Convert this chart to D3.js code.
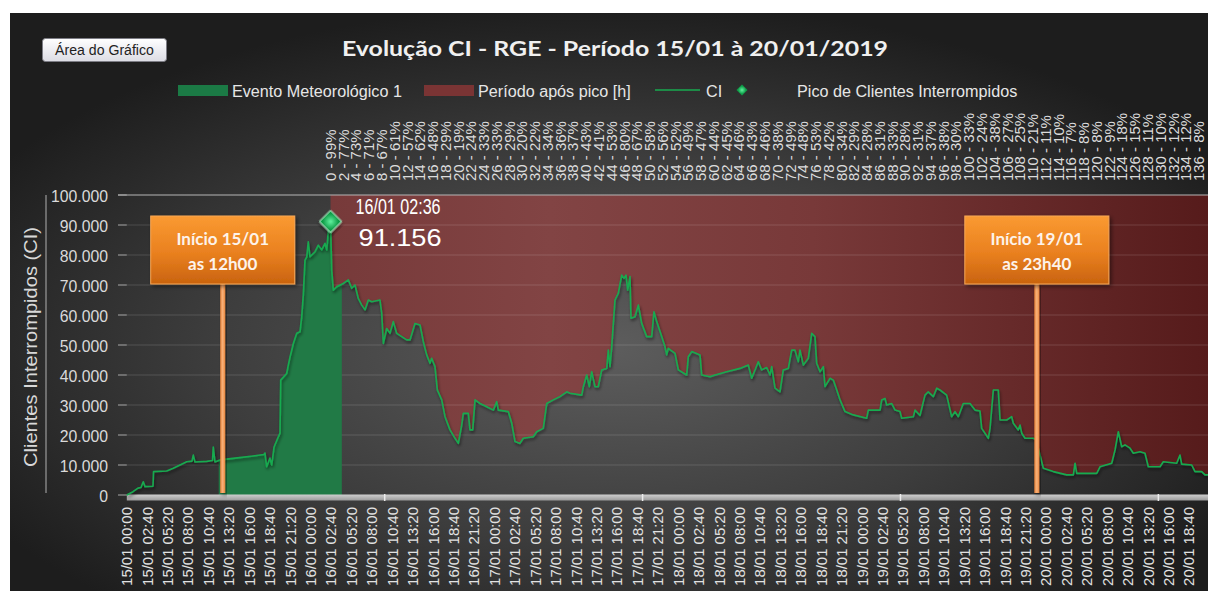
<!DOCTYPE html>
<html>
<head>
<meta charset="utf-8">
<script src="https://cdn.jsdelivr.net/npm/d3@7"></script>
<style>
  body{margin:0;background:#fff;}
  svg{display:block;}
</style>
</head>
<body>
<script>
//dados lidos do grafico original
//serie CI: [horas desde 15/01 00:00, clientes interrompidos]
var serieCI = [
  [0,0],[0.81,1100],[1.46,2300],[1.85,2500],[2.15,4400],[2.38,2800],[3.42,2900],[3.49,7800],
  [5.21,8000],[6.07,8900],[6.95,10000],[7.82,11100],[8.51,11300],[8.68,13300],[8.9,11000],
  [10.43,11200],[11.19,11500],[11.29,16000],[11.51,11000],[12.17,11700],[13.86,12200],
  [16.48,13000],[17.91,13500],[18.04,14000],[18.26,9400],[18.69,12300],[18.92,10000],
  [19.22,16000],[19.78,19400],[20.0,20600],[20.09,38300],[20.87,40500],[21.08,43300],
  [21.31,46000],[21.74,50500],[22.18,53900],[22.61,54400],[22.83,59400],[23.04,66700],
  [23.26,78300],[23.49,79400],[23.69,84400],[23.92,79400],[24.57,81100],[25.0,83300],
  [25.44,81700],[25.87,83900],[26.1,81700],[26.31,88300],[26.6,91156],[26.75,75000],
  [26.96,68300],[27.4,69400],[28.26,70500],[28.92,71700],[29.36,68900],[29.79,70000],
  [30.22,65500],[30.67,63300],[31.1,61700],[31.53,65000],[31.97,64400],[33.05,65000],
  [33.28,60500],[33.49,50500],[33.93,55500],[34.36,53900],[34.79,57800],[35.23,53900],
  [35.89,52800],[36.54,51700],[36.97,51700],[37.62,57200],[38.28,56700],[38.71,51100],
  [39.15,46700],[39.58,43900],[39.8,45600],[40.23,42800],[40.54,35000],[41.11,31700],
  [41.54,26100],[42.19,21700],[42.85,18900],[43.28,17200],[43.72,23300],[43.93,27200],
  [44.58,27200],[44.8,21700],[45.16,21700],[45.46,31700],[46.11,30500],[46.98,29400],
  [47.85,28300],[48.29,31100],[48.5,28300],[49.8,27800],[50.25,23900],[50.68,17800],
  [51.33,17200],[51.76,18900],[53.07,19400],[53.51,21100],[54.37,22200],[54.82,30500],
  [55.68,31700],[56.55,32800],[57.43,34400],[57.86,33900],[59.39,33300],[59.6,36100],
  [60.04,40000],[60.38,36100],[60.69,41100],[61.12,36100],[61.55,36100],[62.0,41700],
  [62.65,42200],[62.86,48300],[63.08,42800],[63.3,49400],[63.73,65000],[64.16,67200],
  [64.61,73300],[64.91,72200],[65.17,73300],[65.39,68300],[65.69,72800],[65.82,58900],
  [66.34,59400],[66.78,63300],[67.22,57200],[67.87,52800],[68.52,52800],[68.82,61100],
  [69.18,57800],[69.83,52800],[70.26,49400],[70.48,46700],[70.69,48900],[71.57,47200],
  [72.0,41700],[73.09,40000],[73.3,46100],[73.75,47800],[74.83,46700],[75.05,40000],
  [76.14,39400],[76.79,40000],[78.32,41100],[80.05,42200],[81.14,43300],[81.58,38900],
  [82.44,44400],[82.88,41700],[83.54,42500],[83.97,40000],[84.19,42800],[84.62,35600],
  [85.27,34400],[85.7,41700],[86.36,42200],[86.8,48300],[87.23,48300],[87.66,44400],
  [87.88,48300],[88.32,43300],[88.97,45600],[89.41,53900],[89.84,52800],[90.06,43900],
  [90.5,41100],[90.93,42800],[91.15,36100],[91.8,38900],[92.23,38300],[92.68,35000],
  [93.11,31700],[93.76,27800],[94.84,26700],[96.59,25600],[96.8,28300],[98.33,28300],
  [98.55,31700],[98.98,32200],[99.2,30000],[99.86,30500],[100.29,28300],[100.94,27800],
  [101.16,25600],[102.68,26100],[102.9,28300],[103.55,26500],[104.2,33300],[104.63,34400],
  [105.29,32800],[105.73,35600],[106.16,35000],[107.03,33300],[107.68,26100],[108.12,27800],
  [108.55,26100],[109.2,30500],[110.08,30500],[110.73,28300],[111.38,28000],[111.6,22200],
  [112.47,18900],[112.69,22200],[113.12,35000],[113.77,35000],[114.0,25000],[114.87,25000],
  [115.52,26100],[115.73,23900],[116.38,21700],[116.61,23300],[116.83,20600],[117.26,18900],
  [118.34,18900],[118.7,18500],[119.22,13300],[119.65,8900],[120.95,7800],[122.7,6700],
  [123.57,6700],[123.79,10600],[124.01,7200],[126.62,7200],[127.05,9400],[128.58,10600],
  [129.01,15000],[129.44,21100],[129.88,16100],[130.31,16700],[130.97,15600],[131.4,13900],
  [132.27,14400],[132.92,13900],[133.35,9400],[134.88,9400],[135.31,11100],[137.06,10600],
  [137.49,13300],[137.71,10300],[139.02,10000],[139.45,7800],[140.32,7800],[140.75,6700],
  [141.4,6700]
];

//pico
var picoHora = 26.6;
var picoValor = 91156;
var picoTexto = "16/01 02:36";

//evento meteorologico (horas)
var eventoInicio = 12;
var eventoFim = 28.07;

//rotulos do eixo x (a cada 2h40)
var rotulosX = [
  "15/01 00:00","15/01 02:40","15/01 05:20","15/01 08:00","15/01 10:40","15/01 13:20","15/01 16:00","15/01 18:40","15/01 21:20",
  "16/01 00:00","16/01 02:40","16/01 05:20","16/01 08:00","16/01 10:40","16/01 13:20","16/01 16:00","16/01 18:40","16/01 21:20",
  "17/01 00:00","17/01 02:40","17/01 05:20","17/01 08:00","17/01 10:40","17/01 13:20","17/01 16:00","17/01 18:40","17/01 21:20",
  "18/01 00:00","18/01 02:40","18/01 05:20","18/01 08:00","18/01 10:40","18/01 13:20","18/01 16:00","18/01 18:40","18/01 21:20",
  "19/01 00:00","19/01 02:40","19/01 05:20","19/01 08:00","19/01 10:40","19/01 13:20","19/01 16:00","19/01 18:40","19/01 21:20",
  "20/01 00:00","20/01 02:40","20/01 05:20","20/01 08:00","20/01 10:40","20/01 13:20","20/01 16:00","20/01 18:40"
];
var passoRotuloX = 8 / 3; //2h40 em horas

//rotulos do eixo superior: horas apos pico - % do pico
var rotulosTopo = [
  "0 - 99%","2 - 77%","4 - 73%","6 - 71%","8 - 67%","10 - 61%","12 - 57%","14 - 62%","16 - 48%",
  "18 - 29%","20 - 19%","22 - 24%","24 - 33%","26 - 33%","28 - 29%","30 - 20%","32 - 22%","34 - 34%",
  "36 - 36%","38 - 37%","40 - 43%","42 - 41%","44 - 53%","46 - 80%","48 - 67%","50 - 58%","52 - 56%",
  "54 - 52%","56 - 49%","58 - 47%","60 - 44%","62 - 45%","64 - 46%","66 - 43%","68 - 46%","70 - 38%",
  "72 - 49%","74 - 48%","76 - 53%","78 - 42%","80 - 34%","82 - 29%","84 - 28%","86 - 31%","88 - 33%",
  "90 - 28%","92 - 31%","94 - 37%","96 - 38%","98 - 30%","100 - 33%","102 - 24%","104 - 38%","106 - 27%",
  "108 - 25%","110 - 21%","112 - 11%","114 - 10%","116 - 7%","118 - 8%","120 - 8%","122 - 9%","124 - 18%",
  "126 - 15%","128 - 11%","130 - 10%","132 - 12%","134 - 12%","136 - 8%"
];
var fimTopoHora = 139.93; //ultimo rotulo superior

var ticksY = [0,10000,20000,30000,40000,50000,60000,70000,80000,90000,100000];
var separadoresX = [33.667, 67.333, 101, 134.667];

//caixas de chamada (hora em que a linha foi desenhada)
var chamadas = [
  {hora: 12.52, linhas: ["Início 15/01", "as 12h00"]},
  {hora: 118.8, linhas: ["Início 19/01", "as 23h40"]}
];

var legendaNomes = ["Evento Meteorológico 1", "Período após pico [h]", "CI", "Pico de Clientes Interrompidos"];
var titulo = "Evolução CI - RGE - Período 15/01 à 20/01/2019";

//wrap everything in anon function
(function(){
  //dimensoes
  var width = 1208, height = 601;
  var pLeft = 126.8, pRight = 1208, pTop = 195, pBottom = 495;

  var svg = d3.select("body").append("svg")
    .attr("width", width)
    .attr("height", height);

  //checa se a fonte narrow existe
  var temNarrow = (function(){
    var t = svg.append("text").attr("x", -999).attr("y", -999)
      .style("font-size", "40px").text("Clientes 0123456789");
    t.style("font-family", "monospace");
    var a = t.node().getComputedTextLength();
    t.style("font-family", "'Liberation Sans Narrow', monospace");
    var b = t.node().getComputedTextLength();
    t.remove();
    return Math.abs(a - b) > 1;
  })();
  var fonteN = temNarrow ? "'Liberation Sans Narrow', sans-serif" : "'Liberation Sans', Arial, sans-serif";
  function tam(px){ return (temNarrow ? px : px * 0.83) + "px"; }

  var fmt = d3.formatLocale({decimal: ",", thousands: ".", grouping: [3], currency: ["R$", ""]}).format(",d");

  var x = d3.scaleLinear().domain([0, passoRotuloX * (rotulosX.length - 1)]).range([pLeft, 1189]);
  var y = d3.scaleLinear().domain([0, 100000]).range([pBottom, pTop]);

  var defs = svg.append("defs");

  //fundo
  var rg = defs.append("radialGradient").attr("id", "fundo")
    .attr("cx", "50%").attr("cy", "58%").attr("r", "60%");
  rg.append("stop").attr("offset", "0%").attr("stop-color", "#5d5d5d");
  rg.append("stop").attr("offset", "55%").attr("stop-color", "#3d3d3d");
  rg.append("stop").attr("offset", "100%").attr("stop-color", "#1d1d1d");

  var gv = defs.append("linearGradient").attr("id", "verm")
    .attr("gradientUnits", "userSpaceOnUse")
    .attr("x1", x(picoHora)).attr("x2", pRight).attr("y1", 0).attr("y2", 0);
  gv.append("stop").attr("offset", "0%").attr("stop-color", "#773a3a");
  gv.append("stop").attr("offset", "25%").attr("stop-color", "#824444");
  gv.append("stop").attr("offset", "55%").attr("stop-color", "#783939");
  gv.append("stop").attr("offset", "100%").attr("stop-color", "#561b1b");

  var gl = defs.append("linearGradient").attr("id", "laranja")
    .attr("x1", 0).attr("x2", 0).attr("y1", 0).attr("y2", 1);
  gl.append("stop").attr("offset", "0%").attr("stop-color", "#fa9a32");
  gl.append("stop").attr("offset", "55%").attr("stop-color", "#e9801f");
  gl.append("stop").attr("offset", "100%").attr("stop-color", "#c9630f");

  var glh = defs.append("linearGradient").attr("id", "haste")
    .attr("x1", 0).attr("x2", 1).attr("y1", 0).attr("y2", 0);
  glh.append("stop").attr("offset", "0%").attr("stop-color", "#e8843a");
  glh.append("stop").attr("offset", "50%").attr("stop-color", "#f9b27a");
  glh.append("stop").attr("offset", "100%").attr("stop-color", "#e8843a");

  var gb = defs.append("linearGradient").attr("id", "botao")
    .attr("x1", 0).attr("x2", 0).attr("y1", 0).attr("y2", 1);
  gb.append("stop").attr("offset", "0%").attr("stop-color", "#ffffff");
  gb.append("stop").attr("offset", "100%").attr("stop-color", "#dcdce4");

  var gx = defs.append("linearGradient").attr("id", "eixox")
    .attr("x1", 0).attr("x2", 0).attr("y1", 0).attr("y2", 1);
  gx.append("stop").attr("offset", "0%").attr("stop-color", "#cfcfcf");
  gx.append("stop").attr("offset", "100%").attr("stop-color", "#9b9b9b");

  var gd = defs.append("radialGradient").attr("id", "diam");
  gd.append("stop").attr("offset", "0%").attr("stop-color", "#62f29f");
  gd.append("stop").attr("offset", "100%").attr("stop-color", "#0d9c47");

  var sombra = defs.append("filter").attr("id", "sombra")
    .attr("x", "-5%").attr("y", "-5%").attr("width", "110%").attr("height", "120%");
  sombra.append("feDropShadow").attr("dx", 1).attr("dy", 2).attr("stdDeviation", 1.5)
    .attr("flood-color", "#000").attr("flood-opacity", 0.55);

  var sombraCx = defs.append("filter").attr("id", "sombraCx")
    .attr("x", "-10%").attr("y", "-10%").attr("width", "130%").attr("height", "130%");
  sombraCx.append("feDropShadow").attr("dx", 2).attr("dy", 2).attr("stdDeviation", 2)
    .attr("flood-color", "#000").attr("flood-opacity", 0.5);

  defs.append("clipPath").attr("id", "clipEvento").append("rect")
    .attr("x", x(eventoInicio)).attr("y", pTop)
    .attr("width", x(eventoFim) - x(eventoInicio)).attr("height", pBottom - pTop);
  defs.append("clipPath").attr("id", "clipPos").append("rect")
    .attr("x", x(picoHora)).attr("y", pTop)
    .attr("width", pRight - x(picoHora)).attr("height", pBottom - pTop);
  defs.append("clipPath").attr("id", "clipPlot").append("rect")
    .attr("x", pLeft - 2).attr("y", pTop - 20)
    .attr("width", pRight - pLeft + 2).attr("height", pBottom - pTop + 25);

  //fundo do grafico
  svg.append("rect")
    .attr("x", 10).attr("y", 13)
    .attr("width", width - 10).attr("height", 578)
    .attr("fill", "url(#fundo)");

  //area vermelha: periodo apos pico
  var areaAcima = d3.area()
    .x(function(d){ return x(d[0]); })
    .y0(y(100000))
    .y1(function(d){ return y(d[1]); });
  svg.append("path")
    .datum(serieCI)
    .attr("d", areaAcima)
    .attr("fill", "url(#verm)")
    .attr("clip-path", "url(#clipPos)");

  //grade
  svg.selectAll(".grade")
    .data(ticksY.slice(1, -1))
    .enter()
    .append("line")
    .attr("class", "grade")
    .attr("x1", pLeft).attr("x2", pRight)
    .attr("y1", function(d){ return y(d); })
    .attr("y2", function(d){ return y(d); })
    .attr("stroke", "rgba(255,255,255,0.14)")
    .attr("stroke-width", 1.2);

  //area verde: evento
  var areaAbaixo = d3.area()
    .x(function(d){ return x(d[0]); })
    .y0(y(0))
    .y1(function(d){ return y(d[1]); });
  svg.append("path")
    .datum(serieCI)
    .attr("d", areaAbaixo)
    .attr("fill", "#217a46")
    .attr("clip-path", "url(#clipEvento)");

  //linha do topo
  svg.append("line")
    .attr("x1", 118).attr("x2", pRight)
    .attr("y1", y(100000)).attr("y2", y(100000))
    .attr("stroke", "#b5b5b5").attr("stroke-width", 1.2);

  //eixo y
  svg.selectAll(".tickY")
    .data(ticksY)
    .enter()
    .append("line")
    .attr("class", "tickY")
    .attr("x1", 118).attr("x2", pLeft)
    .attr("y1", function(d){ return y(d); })
    .attr("y2", function(d){ return y(d); })
    .attr("stroke", "#a8a8a8");

  svg.selectAll(".rotY")
    .data(ticksY)
    .enter()
    .append("text")
    .attr("class", "rotY")
    .attr("x", 108)
    .attr("y", function(d){ return y(d) + 7; })
    .attr("text-anchor", "end")
    .style("font-family", fonteN)
    .style("font-size", tam(19))
    .attr("fill", "#dadada")
    .text(function(d){ return fmt(d); });

  svg.append("line")
    .attr("x1", 46).attr("x2", 46)
    .attr("y1", y(100000)).attr("y2", y(0) - 2)
    .attr("stroke", "#b0b0b0");

  svg.append("text")
    .attr("transform", "translate(37," + ((pTop + pBottom) / 2 + 2) + ") rotate(-90)")
    .attr("text-anchor", "middle")
    .style("font-family", fonteN)
    .style("font-size", tam(23))
    .attr("fill", "#d8d8d8")
    .attr("textLength", 240)
    .attr("lengthAdjust", "spacingAndGlyphs")
    .text("Clientes  Interrompidos  (CI)");

  //eixo x
  svg.append("rect")
    .attr("x", pLeft).attr("y", pBottom - 0.5)
    .attr("width", pRight - pLeft).attr("height", 6)
    .attr("fill", "url(#eixox)");

  svg.selectAll(".sepX")
    .data(separadoresX)
    .enter()
    .append("line")
    .attr("class", "sepX")
    .attr("x1", function(d){ return x(d); })
    .attr("x2", function(d){ return x(d); })
    .attr("y1", pBottom - 1).attr("y2", pBottom + 6)
    .attr("stroke", "#ececec").attr("stroke-width", 1.5);

  var fsX = temNarrow ? 18 : 18 * 0.83;
  svg.selectAll(".rotX")
    .data(rotulosX)
    .enter()
    .append("text")
    .attr("class", "rotX")
    .attr("transform", function(d, i){
      return "translate(" + (x(i * passoRotuloX) + fsX * 0.36) + ",507) rotate(-90)";
    })
    .attr("text-anchor", "end")
    .style("font-family", fonteN)
    .style("font-size", fsX + "px")
    .attr("fill", "#e2e2e2")
    .text(function(d){ return d; });

  //eixo superior
  var xTopo = d3.scalePoint()
    .domain(rotulosTopo)
    .range([x(picoHora), x(fimTopoHora)]);
  var fsT = temNarrow ? 18 : 18 * 0.83;
  svg.selectAll(".rotTopo")
    .data(rotulosTopo)
    .enter()
    .append("text")
    .attr("class", "rotTopo")
    .attr("transform", function(d){
      return "translate(" + (xTopo(d) + fsT * 0.36) + ",181) rotate(-90)";
    })
    .attr("text-anchor", "start")
    .style("font-family", fonteN)
    .style("font-size", fsT + "px")
    .attr("fill", "#dcdcdc")
    .text(function(d){ return d; });

  //linha CI
  var linha = d3.line()
    .x(function(d){ return x(d[0]); })
    .y(function(d){ return y(d[1]); });
  svg.append("path")
    .datum(serieCI)
    .attr("d", linha)
    .attr("fill", "none")
    .attr("stroke", "#19ab50")
    .attr("stroke-width", 1.6)
    .attr("stroke-linejoin", "round")
    .attr("filter", "url(#sombra)")
    .attr("clip-path", "url(#clipPlot)");

  //chamadas laranja
  chamadas.forEach(function(c){
    var cx = x(c.hora), cTop = 216, w = 144, h = 68;
    svg.append("rect")
      .attr("x", cx - 2.5).attr("y", cTop + h)
      .attr("width", 5).attr("height", pBottom - 2 - cTop - h)
      .attr("fill", "url(#haste)")
      .attr("filter", "url(#sombraCx)");
    svg.append("rect")
      .attr("x", cx - w / 2).attr("y", cTop)
      .attr("width", w).attr("height", h)
      .attr("fill", "url(#laranja)")
      .attr("stroke", "#f7a857")
      .attr("filter", "url(#sombraCx)");
    c.linhas.forEach(function(t, i){
      svg.append("text")
        .attr("x", cx).attr("y", cTop + 29 + i * 25)
        .attr("text-anchor", "middle")
        .style("font-family", "Lato, 'Open Sans', sans-serif")
        .style("font-weight", "bold")
        .style("font-size", "17px")
        .attr("fill", "#fdf3ea")
        .text(t);
    });
  });

  //marcador de pico
  svg.append("path")
    .attr("d", d3.symbol().type(d3.symbolSquare).size(250)())
    .attr("transform", "translate(" + x(picoHora) + "," + y(picoValor) + ") rotate(45)")
    .attr("fill", "url(#diam)")
    .attr("stroke", "#b5f3cd")
    .attr("stroke-width", 1)
    .attr("filter", "url(#sombraCx)");

  svg.append("text")
    .attr("x", x(picoHora) + 25).attr("y", 214)
    .style("font-family", fonteN)
    .style("font-size", "22px")
    .attr("fill", "#ffffff")
    .attr("textLength", 85)
    .attr("lengthAdjust", "spacingAndGlyphs")
    .text(picoTexto);
  svg.append("text")
    .attr("x", x(picoHora) + 28).attr("y", 246)
    .style("font-family", fonteN)
    .style("font-size", "24px")
    .attr("fill", "#ffffff")
    .attr("textLength", 83)
    .attr("lengthAdjust", "spacingAndGlyphs")
    .text(fmt(picoValor));

  //titulo
  svg.append("text")
    .attr("x", 615).attr("y", 56)
    .attr("text-anchor", "middle")
    .style("font-family", "Lato, 'Open Sans', sans-serif")
    .style("font-weight", "bold")
    .style("font-size", "21px")
    .attr("fill", "#f0f0f0")
    .attr("textLength", 546)
    .attr("lengthAdjust", "spacingAndGlyphs")
    .text(titulo);

  //botao
  svg.append("rect")
    .attr("x", 42.5).attr("y", 38.5)
    .attr("width", 124).attr("height", 23)
    .attr("rx", 3)
    .attr("fill", "url(#botao)")
    .attr("stroke", "#7c7c84");
  svg.append("text")
    .attr("x", 104.5).attr("y", 55)
    .attr("text-anchor", "middle")
    .style("font-family", fonteN)
    .style("font-size", tam(17))
    .attr("fill", "#1e1e1e")
    .text("Área do Gráfico");

  //legenda
  var legY = 90;
  svg.append("rect").attr("x", 178).attr("y", legY - 5).attr("width", 50).attr("height", 11).attr("fill", "#1b7a45");
  svg.append("rect").attr("x", 424).attr("y", legY - 5).attr("width", 50).attr("height", 11).attr("fill", "#7a3434");
  svg.append("line").attr("x1", 655).attr("x2", 700).attr("y1", legY).attr("y2", legY)
    .attr("stroke", "#19ab50").attr("stroke-width", 1.5);
  svg.append("path")
    .attr("d", d3.symbol().type(d3.symbolSquare).size(60)())
    .attr("transform", "translate(742," + legY + ") rotate(45)")
    .attr("fill", "url(#diam)");
  var legX = [232, 478, 706, 797];
  svg.selectAll(".leg")
    .data(legendaNomes)
    .enter()
    .append("text")
    .attr("class", "leg")
    .attr("x", function(d, i){ return legX[i]; })
    .attr("y", legY + 7)
    .style("font-family", fonteN)
    .style("font-size", tam(19.5))
    .attr("fill", "#e6e6e6")
    .text(function(d){ return d; });
})();
</script>
</body>
</html>
